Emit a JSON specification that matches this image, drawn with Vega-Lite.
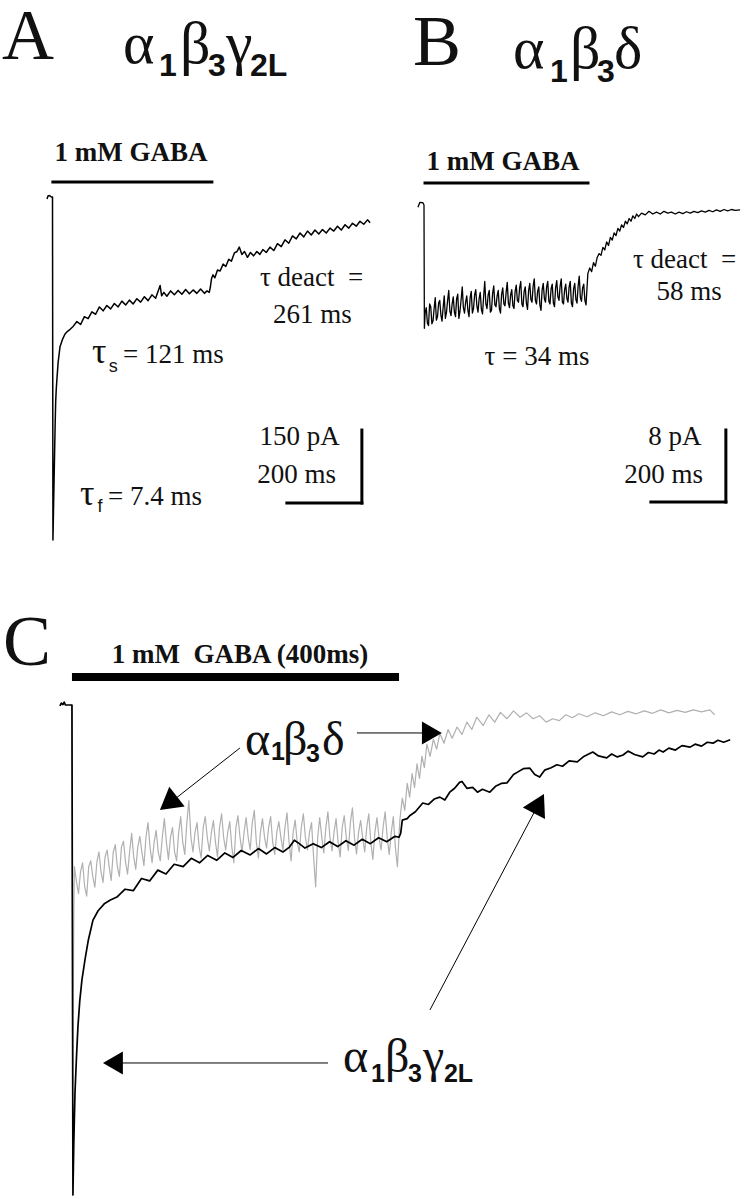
{
"$schema": "https://vega.github.io/schema/vega-lite/v6.json",
"padding": 0,
"background": "white",
"spacing": 0,
"config": {"view": {"stroke": null}, "concat": {"spacing": 0}},
"datasets": {
"traceA": [
{"t":-14.7,"I":-4},{"t":-12,"I":2},{"t":-8,"I":3},{"t":-3,"I":0},{"t":0,"I":0},{"t":0.6,"I":-350},{"t":1.2,"I":-705},{"t":2.5,"I":-650},{"t":4,"I":-590},{"t":5.5,"I":-530},{"t":7,"I":-470},{"t":8.5,"I":-420},{"t":10,"I":-395},{"t":12,"I":-372},{"t":15,"I":-340},{"t":20,"I":-308},{"t":27,"I":-292},{"t":33,"I":-282},{"t":40,"I":-276},{"t":47,"I":-272},{"t":55,"I":-266},
{"t":65,"I":-256},{"t":75,"I":-262},{"t":85,"I":-246},{"t":95,"I":-250},{"t":105,"I":-236},{"t":115,"I":-241},{"t":125,"I":-226},{"t":135,"I":-234},{"t":145,"I":-223},{"t":155,"I":-230},{"t":165,"I":-219},{"t":175,"I":-226},{"t":185,"I":-214},{"t":195,"I":-222},{"t":205,"I":-212},{"t":215,"I":-220},{"t":225,"I":-209},{"t":235,"I":-216},{"t":245,"I":-205},{"t":255,"I":-213},{"t":265,"I":-201},{"t":275,"I":-208},{"t":287,"I":-182},{"t":291,"I":-203},{"t":297,"I":-196},{"t":305,"I":-204},{"t":315,"I":-193},{"t":325,"I":-201},{"t":335,"I":-192},{"t":345,"I":-200},{"t":355,"I":-190},{"t":365,"I":-199},{"t":375,"I":-191},{"t":385,"I":-198},{"t":395,"I":-189},{"t":405,"I":-198},{"t":412,"I":-193},{"t":418,"I":-196},{"t":421,"I":-185},{"t":424,"I":-168},{"t":428,"I":-160},{"t":433,"I":-166},{"t":440,"I":-150},{"t":447,"I":-152},{"t":455,"I":-138},{"t":462,"I":-143},{"t":470,"I":-128},{"t":477,"I":-132},{"t":485,"I":-115},{"t":492,"I":-112},{"t":498,"I":-103},{"t":505,"I":-118},{"t":512,"I":-112},{"t":520,"I":-124},{"t":528,"I":-114},{"t":536,"I":-121},{"t":545,"I":-112},{"t":553,"I":-118},{"t":561,"I":-108},{"t":570,"I":-114},{"t":580,"I":-103},{"t":590,"I":-110},{"t":600,"I":-96},{"t":610,"I":-102},{"t":620,"I":-88},{"t":630,"I":-95},{"t":640,"I":-80},{"t":650,"I":-86},{"t":660,"I":-74},{"t":670,"I":-82},{"t":680,"I":-70},{"t":690,"I":-78},{"t":700,"I":-68},{"t":710,"I":-76},{"t":720,"I":-67},{"t":730,"I":-74},{"t":740,"I":-64},{"t":750,"I":-70},{"t":760,"I":-60},{"t":770,"I":-68},{"t":780,"I":-57},{"t":790,"I":-64},{"t":800,"I":-54},{"t":810,"I":-60},{"t":820,"I":-50},{"t":830,"I":-56},{"t":840,"I":-47},{"t":847,"I":-53}
],
"traceB": [
{"t":-16,"I":-0.25},{"t":-11,"I":0.3},{"t":-3,"I":0.25},{"t":0,"I":0},{"t":0.5,"I":-7},{"t":1,"I":-13.7},{"t":3,"I":-12.0},
{"t":6,"I":-11.4},{"t":9,"I":-13.1},{"t":12,"I":-13.4},{"t":15,"I":-11.0},{"t":18,"I":-11.3},{"t":21,"I":-13.2},{"t":24,"I":-12.9},{"t":27,"I":-11.5},{"t":30,"I":-10.3},{"t":33,"I":-12.8},{"t":36,"I":-12.4},{"t":39,"I":-10.9},{"t":42,"I":-10.6},{"t":45,"I":-12.2},{"t":48,"I":-12.9},{"t":51,"I":-11.4},{"t":54,"I":-10.1},{"t":57,"I":-12.6},{"t":60,"I":-11.9},{"t":63,"I":-10.6},{"t":66,"I":-9.5},{"t":69,"I":-11.8},{"t":72,"I":-12.3},{"t":75,"I":-11.0},{"t":78,"I":-10.2},{"t":81,"I":-11.9},{"t":84,"I":-12.4},{"t":87,"I":-10.4},{"t":90,"I":-9.9},{"t":93,"I":-12.6},{"t":96,"I":-11.8},{"t":99,"I":-10.5},{"t":102,"I":-9.1},{"t":105,"I":-11.4},{"t":108,"I":-12.0},{"t":111,"I":-10.8},{"t":114,"I":-10.1},{"t":117,"I":-11.7},{"t":120,"I":-12.4},{"t":123,"I":-10.3},{"t":126,"I":-9.6},{"t":129,"I":-12.0},{"t":132,"I":-11.5},{"t":135,"I":-10.0},{"t":138,"I":-9.4},{"t":141,"I":-11.2},{"t":144,"I":-11.9},{"t":147,"I":-10.4},{"t":150,"I":-9.7},{"t":153,"I":-11.6},{"t":156,"I":-12.1},{"t":159,"I":-10.2},{"t":162,"I":-8.5},{"t":165,"I":-11.0},{"t":168,"I":-11.5},{"t":171,"I":-10.0},{"t":174,"I":-9.5},{"t":177,"I":-11.9},{"t":180,"I":-11.7},{"t":183,"I":-9.8},{"t":186,"I":-9.0},{"t":189,"I":-11.1},{"t":192,"I":-11.3},{"t":195,"I":-10.1},{"t":198,"I":-9.5},{"t":201,"I":-11.5},{"t":204,"I":-12.0},{"t":207,"I":-9.9},{"t":210,"I":-9.2},{"t":213,"I":-11.0},{"t":216,"I":-11.2},{"t":219,"I":-9.7},{"t":222,"I":-8.6},{"t":225,"I":-10.9},{"t":228,"I":-11.4},{"t":231,"I":-10.0},{"t":234,"I":-9.4},{"t":237,"I":-11.2},{"t":240,"I":-11.5},{"t":243,"I":-9.6},{"t":246,"I":-8.9},{"t":249,"I":-10.6},{"t":252,"I":-10.8},{"t":255,"I":-9.2},{"t":258,"I":-8.5},{"t":261,"I":-11.0},{"t":264,"I":-11.3},{"t":267,"I":-9.6},{"t":270,"I":-9.1},{"t":273,"I":-10.9},{"t":276,"I":-11.6},{"t":279,"I":-9.5},{"t":282,"I":-8.7},{"t":285,"I":-10.5},{"t":288,"I":-10.8},{"t":291,"I":-9.0},{"t":294,"I":-8.2},{"t":297,"I":-10.6},{"t":300,"I":-11.0},{"t":303,"I":-9.6},{"t":306,"I":-9.1},{"t":309,"I":-11.1},{"t":312,"I":-11.7},{"t":315,"I":-9.4},{"t":318,"I":-8.7},{"t":321,"I":-10.4},{"t":324,"I":-10.8},{"t":327,"I":-9.1},{"t":330,"I":-8.5},{"t":333,"I":-10.7},{"t":336,"I":-11.0},{"t":339,"I":-9.3},{"t":342,"I":-8.8},{"t":345,"I":-10.9},{"t":348,"I":-11.3},{"t":351,"I":-9.2},{"t":354,"I":-8.4},{"t":357,"I":-10.2},{"t":360,"I":-10.6},{"t":363,"I":-9.0},{"t":366,"I":-8.2},{"t":369,"I":-10.8},{"t":372,"I":-11.0},{"t":375,"I":-9.4},{"t":378,"I":-8.8},{"t":381,"I":-10.4},{"t":384,"I":-10.8},{"t":387,"I":-9.1},{"t":390,"I":-8.5},{"t":393,"I":-10.9},{"t":396,"I":-11.3},{"t":399,"I":-9.3},{"t":402,"I":-8.7},{"t":405,"I":-10.5},{"t":408,"I":-10.9},{"t":411,"I":-9.0},{"t":414,"I":-7.9},{"t":417,"I":-10.3},{"t":420,"I":-10.7},{"t":423,"I":-9.2},{"t":426,"I":-8.8},{"t":429,"I":-10.6},{"t":432,"I":-11.1},
{"t":437,"I":-7.6},{"t":442,"I":-7.0},{"t":447,"I":-7.4},{"t":452,"I":-6.4},{"t":457,"I":-6.8},{"t":462,"I":-5.8},{"t":467,"I":-5.4},{"t":472,"I":-5.6},{"t":477,"I":-4.7},{"t":482,"I":-5.0},{"t":487,"I":-4.1},{"t":492,"I":-4.5},{"t":497,"I":-3.6},{"t":502,"I":-3.9},{"t":507,"I":-3.1},{"t":512,"I":-3.4},{"t":517,"I":-2.6},{"t":522,"I":-2.9},{"t":527,"I":-2.2},{"t":532,"I":-2.5},{"t":537,"I":-1.8},{"t":542,"I":-2.1},{"t":547,"I":-1.5},{"t":552,"I":-1.8},{"t":557,"I":-1.2},{"t":562,"I":-1.5},{"t":567,"I":-1.0},{"t":572,"I":-1.3},{"t":580,"I":-0.9},{"t":590,"I":-1.1},{"t":600,"I":-0.7},{"t":610,"I":-1.0},{"t":620,"I":-0.8},{"t":630,"I":-1.0},{"t":640,"I":-0.7},{"t":650,"I":-0.9},{"t":660,"I":-0.8},{"t":670,"I":-1.0},{"t":680,"I":-0.8},{"t":690,"I":-0.95},{"t":700,"I":-0.75},{"t":710,"I":-0.9},{"t":720,"I":-0.7},{"t":730,"I":-0.85},{"t":740,"I":-0.65},{"t":750,"I":-0.8},{"t":760,"I":-0.6},{"t":770,"I":-0.75},{"t":780,"I":-0.55},{"t":790,"I":-0.7},{"t":800,"I":-0.5},{"t":810,"I":-0.65},{"t":820,"I":-0.5},{"t":830,"I":-0.6},{"t":843,"I":-0.55}
],
"traceCgray": [
{"t":-2,"I":0},{"t":0,"I":0},{"t":0.5,"I":-0.4},{"t":1,"I":-0.771},{"t":1.6,"I":-0.6},{"t":2.3,"I":-0.42},
{"t":3,"I":-0.330},{"t":5.5,"I":-0.36},{"t":8,"I":-0.385},{"t":10.5,"I":-0.34},{"t":13,"I":-0.322},{"t":15.5,"I":-0.37},{"t":18,"I":-0.390},{"t":20.5,"I":-0.33},{"t":23,"I":-0.318},{"t":25.5,"I":-0.35},{"t":28,"I":-0.372},{"t":30.5,"I":-0.32},{"t":33,"I":-0.300},{"t":35.5,"I":-0.34},{"t":38,"I":-0.362},{"t":40.5,"I":-0.31},{"t":43,"I":-0.296},{"t":45.5,"I":-0.33},{"t":48,"I":-0.358},{"t":50.5,"I":-0.30},{"t":53,"I":-0.285},{"t":55.5,"I":-0.33},{"t":58,"I":-0.350},{"t":60.5,"I":-0.29},{"t":63,"I":-0.278},{"t":65.5,"I":-0.32},{"t":68,"I":-0.345},{"t":70.5,"I":-0.30},{"t":73,"I":-0.262},{"t":75.5,"I":-0.31},{"t":78,"I":-0.335},{"t":80.5,"I":-0.29},{"t":83,"I":-0.268},{"t":85.5,"I":-0.30},{"t":88,"I":-0.328},{"t":90.5,"I":-0.27},{"t":93,"I":-0.240},{"t":95.5,"I":-0.29},{"t":98,"I":-0.322},{"t":100.5,"I":-0.28},{"t":103,"I":-0.256},{"t":105.5,"I":-0.30},{"t":108,"I":-0.318},{"t":110.5,"I":-0.27},{"t":113,"I":-0.232},{"t":115.5,"I":-0.28},{"t":118,"I":-0.315},{"t":120.5,"I":-0.27},{"t":123,"I":-0.250},{"t":125.5,"I":-0.30},{"t":128,"I":-0.318},{"t":130.5,"I":-0.26},{"t":133,"I":-0.228},{"t":135.5,"I":-0.28},{"t":138,"I":-0.305},{"t":140.5,"I":-0.24},{"t":143,"I":-0.195},{"t":145.5,"I":-0.27},{"t":148,"I":-0.300},{"t":150.5,"I":-0.26},{"t":153,"I":-0.240},{"t":155.5,"I":-0.29},{"t":158,"I":-0.312},{"t":160.5,"I":-0.25},{"t":163,"I":-0.228},{"t":165.5,"I":-0.27},{"t":168,"I":-0.298},{"t":170.5,"I":-0.26},{"t":173,"I":-0.236},{"t":175.5,"I":-0.28},{"t":178,"I":-0.310},{"t":180.5,"I":-0.25},{"t":183,"I":-0.222},{"t":185.5,"I":-0.27},{"t":188,"I":-0.296},{"t":190.5,"I":-0.26},{"t":193,"I":-0.238},{"t":195.5,"I":-0.29},{"t":198,"I":-0.322},{"t":200.5,"I":-0.25},{"t":203,"I":-0.226},{"t":205.5,"I":-0.27},{"t":208,"I":-0.300},{"t":210.5,"I":-0.26},{"t":213,"I":-0.230},{"t":215.5,"I":-0.27},{"t":218,"I":-0.295},{"t":220.5,"I":-0.24},{"t":223,"I":-0.215},{"t":225.5,"I":-0.28},{"t":228,"I":-0.312},{"t":230.5,"I":-0.26},{"t":233,"I":-0.232},{"t":235.5,"I":-0.27},{"t":238,"I":-0.292},{"t":240.5,"I":-0.25},{"t":243,"I":-0.228},{"t":245.5,"I":-0.28},{"t":248,"I":-0.305},{"t":250.5,"I":-0.26},{"t":253,"I":-0.238},{"t":255.5,"I":-0.27},{"t":258,"I":-0.296},{"t":260.5,"I":-0.25},{"t":263,"I":-0.220},{"t":265.5,"I":-0.28},{"t":268,"I":-0.318},{"t":270.5,"I":-0.26},{"t":273,"I":-0.235},{"t":275.5,"I":-0.28},{"t":278,"I":-0.300},{"t":280.5,"I":-0.25},{"t":283,"I":-0.222},{"t":285.5,"I":-0.27},{"t":288,"I":-0.296},{"t":290.5,"I":-0.26},{"t":293,"I":-0.240},{"t":295.5,"I":-0.31},{"t":298,"I":-0.371},{"t":300.5,"I":-0.27},{"t":303,"I":-0.230},{"t":305.5,"I":-0.27},{"t":308,"I":-0.302},{"t":310.5,"I":-0.25},{"t":313,"I":-0.218},{"t":315.5,"I":-0.27},{"t":318,"I":-0.298},{"t":320.5,"I":-0.26},{"t":323,"I":-0.232},{"t":325.5,"I":-0.28},{"t":328,"I":-0.310},{"t":330.5,"I":-0.25},{"t":333,"I":-0.226},{"t":335.5,"I":-0.27},{"t":338,"I":-0.297},{"t":340.5,"I":-0.24},{"t":343,"I":-0.210},{"t":345.5,"I":-0.27},{"t":348,"I":-0.304},{"t":350.5,"I":-0.26},{"t":353,"I":-0.236},{"t":355.5,"I":-0.27},{"t":358,"I":-0.300},{"t":360.5,"I":-0.25},{"t":363,"I":-0.222},{"t":365.5,"I":-0.28},{"t":368,"I":-0.315},{"t":370.5,"I":-0.26},{"t":373,"I":-0.230},{"t":375.5,"I":-0.27},{"t":378,"I":-0.296},{"t":380.5,"I":-0.25},{"t":383,"I":-0.218},{"t":385.5,"I":-0.27},{"t":388,"I":-0.305},{"t":390.5,"I":-0.26},{"t":393,"I":-0.228},{"t":395.5,"I":-0.29},{"t":398,"I":-0.330},
{"t":401,"I":-0.235},{"t":404,"I":-0.190},{"t":407,"I":-0.215},{"t":410,"I":-0.160},{"t":413,"I":-0.188},{"t":416,"I":-0.140},{"t":419,"I":-0.168},{"t":422,"I":-0.120},{"t":425,"I":-0.150},{"t":428,"I":-0.105},{"t":431,"I":-0.128},{"t":434,"I":-0.080},{"t":438,"I":-0.105},{"t":442,"I":-0.070},{"t":446,"I":-0.090},{"t":450,"I":-0.058},{"t":455,"I":-0.078},{"t":460,"I":-0.050},{"t":465,"I":-0.068},{"t":471,"I":-0.045},{"t":477,"I":-0.060},{"t":483,"I":-0.035},{"t":489,"I":-0.050},{"t":495,"I":-0.025},{"t":503,"I":-0.042},{"t":510,"I":-0.020},{"t":517,"I":-0.035},{"t":524,"I":-0.015},{"t":532,"I":-0.028},{"t":540,"I":-0.012},{"t":548,"I":-0.025},{"t":556,"I":-0.016},{"t":564,"I":-0.028},{"t":572,"I":-0.022},{"t":580,"I":-0.035},{"t":588,"I":-0.028},{"t":596,"I":-0.032},{"t":604,"I":-0.020},{"t":612,"I":-0.026},{"t":620,"I":-0.018},{"t":630,"I":-0.024},{"t":640,"I":-0.016},{"t":650,"I":-0.022},{"t":660,"I":-0.014},{"t":670,"I":-0.020},{"t":680,"I":-0.013},{"t":690,"I":-0.018},{"t":700,"I":-0.012},{"t":710,"I":-0.017},{"t":720,"I":-0.010},{"t":730,"I":-0.016},{"t":740,"I":-0.011},{"t":750,"I":-0.015},{"t":760,"I":-0.010},{"t":770,"I":-0.014},{"t":780,"I":-0.010},{"t":786,"I":-0.020}
],
"traceCblack": [
{"t":-14.7,"I":-0.002},{"t":-13,"I":0.004},{"t":-11,"I":0.001},{"t":-9.5,"I":0.006},{"t":-8,"I":0.0},{"t":0,"I":0},{"t":0.6,"I":-0.5},{"t":1.2,"I":-1.0},{"t":2.2,"I":-0.9},{"t":3.7,"I":-0.792},{"t":5.5,"I":-0.72},{"t":7.3,"I":-0.657},{"t":9.5,"I":-0.605},{"t":12.2,"I":-0.561},{"t":15.9,"I":-0.52},{"t":20,"I":-0.48},{"t":25.7,"I":-0.439},{"t":32,"I":-0.42},{"t":40,"I":-0.405},{"t":47,"I":-0.398},{"t":55,"I":-0.392},
{"t":65,"I":-0.376},{"t":75,"I":-0.379},{"t":85,"I":-0.354},{"t":95,"I":-0.359},{"t":105,"I":-0.337},{"t":115,"I":-0.345},{"t":125,"I":-0.325},{"t":136,"I":-0.330},{"t":146,"I":-0.313},{"t":156,"I":-0.322},{"t":166,"I":-0.307},{"t":177,"I":-0.317},{"t":187,"I":-0.302},{"t":197,"I":-0.311},{"t":207,"I":-0.297},{"t":218,"I":-0.306},{"t":228,"I":-0.293},{"t":238,"I":-0.304},{"t":248,"I":-0.291},{"t":258,"I":-0.300},{"t":266,"I":-0.290},{"t":272,"I":-0.276},{"t":278,"I":-0.283},{"t":285,"I":-0.292},{"t":295,"I":-0.283},{"t":305,"I":-0.291},{"t":315,"I":-0.279},{"t":325,"I":-0.289},{"t":335,"I":-0.277},{"t":345,"I":-0.286},{"t":355,"I":-0.274},{"t":365,"I":-0.283},{"t":375,"I":-0.271},{"t":385,"I":-0.279},{"t":395,"I":-0.268},{"t":400,"I":-0.270},
{"t":402,"I":-0.262},{"t":404,"I":-0.235},{"t":410,"I":-0.232},{"t":413,"I":-0.226},{"t":420,"I":-0.218},{"t":429,"I":-0.200},{"t":436,"I":-0.203},{"t":443,"I":-0.192},{"t":450,"I":-0.188},{"t":456,"I":-0.194},{"t":462,"I":-0.178},{"t":468,"I":-0.170},{"t":474,"I":-0.158},{"t":477,"I":-0.156},{"t":483,"I":-0.170},{"t":490,"I":-0.168},{"t":496,"I":-0.178},{"t":502,"I":-0.172},{"t":511,"I":-0.178},{"t":518,"I":-0.166},{"t":525,"I":-0.160},{"t":532,"I":-0.159},{"t":540,"I":-0.142},{"t":546,"I":-0.136},{"t":552,"I":-0.130},{"t":560,"I":-0.129},{"t":566,"I":-0.142},{"t":572,"I":-0.147},{"t":578,"I":-0.133},{"t":586,"I":-0.128},{"t":593,"I":-0.122},{"t":600,"I":-0.125},{"t":608,"I":-0.114},{"t":618,"I":-0.116},{"t":626,"I":-0.105},{"t":632,"I":-0.100},{"t":637,"I":-0.096},{"t":644,"I":-0.104},{"t":654,"I":-0.108},{"t":660,"I":-0.100},{"t":667,"I":-0.106},{"t":674,"I":-0.102},{"t":680,"I":-0.094},{"t":688,"I":-0.101},{"t":698,"I":-0.106},{"t":705,"I":-0.097},{"t":712,"I":-0.100},{"t":718,"I":-0.092},{"t":723,"I":-0.096},{"t":730,"I":-0.088},{"t":738,"I":-0.092},{"t":746,"I":-0.083},{"t":756,"I":-0.086},{"t":762,"I":-0.080},{"t":770,"I":-0.084},{"t":777,"I":-0.076},{"t":784,"I":-0.078},{"t":790,"I":-0.072},{"t":797,"I":-0.076},{"t":805,"I":-0.071}
],
"rulesA": [
{"kind":"bar","t":1,"I":30.8,"t2":425,"I2":30.8},
{"kind":"bar","t":625,"I":-629,"t2":825,"I2":-629},
{"kind":"bar","t":825,"I":-629,"t2":825,"I2":-479}
],
"rulesB": [
{"kind":"bar","t":2.7,"I":2.44,"t2":437.3,"I2":2.44},
{"kind":"bar","t":605,"I":-33,"t2":805,"I2":-33},
{"kind":"bar","t":805,"I":-33,"t2":805,"I2":-25}
],
"rulesC": [
{"kind":"stim","t":0,"I":0.0571,"t2":400,"I2":0.0571},
{"kind":"arrow","t":348.5,"I":-0.0571,"t2":432,"I2":-0.0571},
{"kind":"arrow","t":205.4,"I":-0.0878,"t2":122,"I2":-0.197},
{"kind":"arrow","t":313.1,"I":-0.7306,"t2":52,"I2":-0.7306},
{"kind":"arrow","t":437.8,"I":-0.6224,"t2":571,"I2":-0.201}
],
"textA": [
{"kind":"panel","label":"A","t":-134.7,"I":283.6},
{"kind":"greek","label":"α","t":188,"I":275.4},
{"kind":"sub","label":"1","t":284,"I":248.7},
{"kind":"greek","label":"β","t":340,"I":275.4},
{"kind":"sub","label":"3","t":414.7,"I":248.7},
{"kind":"greek","label":"γ","t":462.7,"I":275.4},
{"kind":"sub","label":"2L","t":526.7,"I":248.7},
{"kind":"gaba","label":"1 mM GABA","t":209.3,"I":75.0},
{"kind":"note","label":"τ deact\u00a0 =","t":553.3,"I":-182.9},
{"kind":"center","label":"261 ms","t":693.3,"I":-259.6},
{"kind":"tau","label":"τ","t":105.3,"I":-341.2},
{"kind":"tauSub","label":"s","t":150,"I":-359.7},
{"kind":"note","label":"= 121 ms","t":188,"I":-341.2},
{"kind":"tau","label":"τ","t":73.3,"I":-633.1},
{"kind":"tauSub","label":"f","t":120,"I":-647.5},
{"kind":"note","label":"= 7.4 ms","t":148,"I":-633.1},
{"kind":"center","label":"150 pA","t":658.7,"I":-509.7},
{"kind":"center","label":"200 ms","t":650.7,"I":-588.5}
],
"textB": [
{"kind":"panel","label":"B","t":-29.3,"I":15.56},
{"kind":"greek","label":"α","t":237.3,"I":15.22},
{"kind":"sub","label":"1","t":336,"I":13.67},
{"kind":"greek","label":"β","t":389.3,"I":15.22},
{"kind":"sub","label":"3","t":461.3,"I":13.67},
{"kind":"greek","label":"δ","t":506.7,"I":15.22},
{"kind":"gaba","label":"1 mM GABA","t":210.7,"I":3.89},
{"kind":"note","label":"τ deact\u00a0 =","t":557.3,"I":-7.04},
{"kind":"center","label":"58 ms","t":706.7,"I":-10.56},
{"kind":"center","label":"τ = 34 ms","t":301.3,"I":-17.78},
{"kind":"center","label":"8 pA","t":669.3,"I":-26.67},
{"kind":"center","label":"200 ms","t":638.7,"I":-30.93}
],
"textC": [
{"kind":"panel","label":"C","t":-84.4,"I":0.0816},
{"kind":"gaba","label":"1 mM\u00a0 GABA (400ms)","t":205.4,"I":0.0857},
{"kind":"greekC","label":"α","t":211.6,"I":-0.102},
{"kind":"subC","label":"1","t":243.4,"I":-0.1122},
{"kind":"greekC","label":"β","t":258.0,"I":-0.102},
{"kind":"subC","label":"3","t":286.2,"I":-0.1163},
{"kind":"greekC","label":"δ","t":305.7,"I":-0.102},
{"kind":"greekC","label":"α","t":331.4,"I":-0.749},
{"kind":"subC","label":"1","t":365.6,"I":-0.769},
{"kind":"greekC","label":"β","t":382.8,"I":-0.749},
{"kind":"subC","label":"3","t":410.9,"I":-0.769},
{"kind":"greekC","label":"γ","t":429.2,"I":-0.749},
{"kind":"subC","label":"2L","t":454.9,"I":-0.769}
],
"headRight": [{"t":440.2,"I":-0.0571}],
"headLeft": [{"t":50.1,"I":-0.7306}],
"headDownLeft": [{"t":118.0,"I":-0.2006}],
"headUpRight": [{"t":571.1,"I":-0.2012}]
},
"vconcat": [
{
"hconcat": [
{
"width": 390, "height": 560,
"encoding": {
"x": {"field": "t", "type": "quantitative", "scale": {"domain": [-140, 900], "nice": false, "zero": false}, "axis": null},
"y": {"field": "I", "type": "quantitative", "scale": {"domain": [-746.1, 404.9], "nice": false, "zero": false}, "axis": null}
},
"layer": [
{"data": {"name": "traceA"}, "mark": {"type": "line", "color": "black", "strokeWidth": 1.5, "strokeJoin": "round"}},
{"data": {"name": "rulesA"}, "mark": {"type": "rule", "color": "black", "strokeWidth": 3, "strokeCap": "square"}, "encoding": {"x2": {"field": "t2"}, "y2": {"field": "I2"}}},
{"data": {"name": "textA"}, "transform": [{"filter": "datum.kind === 'panel'"}], "mark": {"type": "text", "align": "left", "baseline": "alphabetic", "font": "Liberation Serif", "fontSize": 72, "color": "#111"}, "encoding": {"text": {"field": "label"}}},
{"data": {"name": "textA"}, "transform": [{"filter": "datum.kind === 'greek'"}], "mark": {"type": "text", "align": "left", "baseline": "alphabetic", "font": "Liberation Serif", "fontSize": 60, "color": "#111"}, "encoding": {"text": {"field": "label"}}},
{"data": {"name": "textA"}, "transform": [{"filter": "datum.kind === 'sub'"}], "mark": {"type": "text", "align": "left", "baseline": "alphabetic", "font": "Liberation Sans", "fontWeight": "bold", "fontSize": 32, "color": "#111"}, "encoding": {"text": {"field": "label"}}},
{"data": {"name": "textA"}, "transform": [{"filter": "datum.kind === 'gaba'"}], "mark": {"type": "text", "align": "center", "baseline": "alphabetic", "font": "Liberation Serif", "fontWeight": "bold", "fontSize": 27, "color": "#111"}, "encoding": {"text": {"field": "label"}}},
{"data": {"name": "textA"}, "transform": [{"filter": "datum.kind === 'note'"}], "mark": {"type": "text", "align": "left", "baseline": "alphabetic", "font": "Liberation Serif", "fontSize": 27, "color": "#111"}, "encoding": {"text": {"field": "label"}}},
{"data": {"name": "textA"}, "transform": [{"filter": "datum.kind === 'center'"}], "mark": {"type": "text", "align": "center", "baseline": "alphabetic", "font": "Liberation Serif", "fontSize": 27, "color": "#111"}, "encoding": {"text": {"field": "label"}}},
{"data": {"name": "textA"}, "transform": [{"filter": "datum.kind === 'tau'"}], "mark": {"type": "text", "align": "left", "baseline": "alphabetic", "font": "Liberation Serif", "fontSize": 36, "color": "#111"}, "encoding": {"text": {"field": "label"}}},
{"data": {"name": "textA"}, "transform": [{"filter": "datum.kind === 'tauSub'"}], "mark": {"type": "text", "align": "left", "baseline": "alphabetic", "font": "Liberation Sans", "fontSize": 18, "color": "#111"}, "encoding": {"text": {"field": "label"}}}
]
},
{
"width": 359, "height": 560,
"encoding": {
"x": {"field": "t", "type": "quantitative", "scale": {"domain": [-90.667, 866.667], "nice": false, "zero": false}, "axis": null},
"y": {"field": "I", "type": "quantitative", "scale": {"domain": [-39.444, 22.778], "nice": false, "zero": false}, "axis": null}
},
"layer": [
{"data": {"name": "traceB"}, "mark": {"type": "line", "color": "black", "strokeWidth": 1.3, "strokeJoin": "round"}},
{"data": {"name": "rulesB"}, "mark": {"type": "rule", "color": "black", "strokeWidth": 3, "strokeCap": "square"}, "encoding": {"x2": {"field": "t2"}, "y2": {"field": "I2"}}},
{"data": {"name": "textB"}, "transform": [{"filter": "datum.kind === 'panel'"}], "mark": {"type": "text", "align": "left", "baseline": "alphabetic", "font": "Liberation Serif", "fontSize": 72, "color": "#111"}, "encoding": {"text": {"field": "label"}}},
{"data": {"name": "textB"}, "transform": [{"filter": "datum.kind === 'greek'"}], "mark": {"type": "text", "align": "left", "baseline": "alphabetic", "font": "Liberation Serif", "fontSize": 60, "color": "#111"}, "encoding": {"text": {"field": "label"}}},
{"data": {"name": "textB"}, "transform": [{"filter": "datum.kind === 'sub'"}], "mark": {"type": "text", "align": "left", "baseline": "alphabetic", "font": "Liberation Sans", "fontWeight": "bold", "fontSize": 32, "color": "#111"}, "encoding": {"text": {"field": "label"}}},
{"data": {"name": "textB"}, "transform": [{"filter": "datum.kind === 'gaba'"}], "mark": {"type": "text", "align": "center", "baseline": "alphabetic", "font": "Liberation Serif", "fontWeight": "bold", "fontSize": 27, "color": "#111"}, "encoding": {"text": {"field": "label"}}},
{"data": {"name": "textB"}, "transform": [{"filter": "datum.kind === 'note'"}], "mark": {"type": "text", "align": "left", "baseline": "alphabetic", "font": "Liberation Serif", "fontSize": 27, "color": "#111"}, "encoding": {"text": {"field": "label"}}},
{"data": {"name": "textB"}, "transform": [{"filter": "datum.kind === 'center'"}], "mark": {"type": "text", "align": "center", "baseline": "alphabetic", "font": "Liberation Serif", "fontSize": 27, "color": "#111"}, "encoding": {"text": {"field": "label"}}}
]
}
],
"spacing": 0,
"bounds": "flush"
},
{
"width": 749, "height": 639,
"encoding": {
"x": {"field": "t", "type": "quantitative", "scale": {"domain": [-88, 828], "nice": false, "zero": false}, "axis": null},
"y": {"field": "I", "type": "quantitative", "scale": {"domain": [-1.0082, 0.2959], "nice": false, "zero": false}, "axis": null}
},
"layer": [
{"data": {"name": "traceCgray"}, "mark": {"type": "line", "color": "#b0b0b0", "strokeWidth": 1.2, "strokeJoin": "round"}},
{"data": {"name": "traceCblack"}, "mark": {"type": "line", "color": "black", "strokeWidth": 1.7, "strokeJoin": "round"}},
{"data": {"name": "rulesC"}, "transform": [{"filter": "datum.kind === 'stim'"}], "mark": {"type": "rule", "color": "black", "strokeWidth": 8}, "encoding": {"x2": {"field": "t2"}, "y2": {"field": "I2"}}},
{"data": {"name": "rulesC"}, "transform": [{"filter": "datum.kind === 'arrow'"}], "mark": {"type": "rule", "color": "black", "strokeWidth": 1}, "encoding": {"x2": {"field": "t2"}, "y2": {"field": "I2"}}},
{"data": {"name": "headRight"}, "mark": {"type": "point", "shape": "triangle-up", "angle": 90, "size": 529, "filled": true, "color": "black", "opacity": 1}},
{"data": {"name": "headLeft"}, "mark": {"type": "point", "shape": "triangle-up", "angle": 270, "size": 529, "filled": true, "color": "black", "opacity": 1}},
{"data": {"name": "headDownLeft"}, "mark": {"type": "point", "shape": "triangle-up", "angle": 232, "size": 625, "filled": true, "color": "black", "opacity": 1}},
{"data": {"name": "headUpRight"}, "mark": {"type": "point", "shape": "triangle-up", "angle": 27.5, "size": 625, "filled": true, "color": "black", "opacity": 1}},
{"data": {"name": "textC"}, "transform": [{"filter": "datum.kind === 'panel'"}], "mark": {"type": "text", "align": "left", "baseline": "alphabetic", "font": "Liberation Serif", "fontSize": 72, "color": "#111"}, "encoding": {"text": {"field": "label"}}},
{"data": {"name": "textC"}, "transform": [{"filter": "datum.kind === 'gaba'"}], "mark": {"type": "text", "align": "center", "baseline": "alphabetic", "font": "Liberation Serif", "fontWeight": "bold", "fontSize": 27, "color": "#111"}, "encoding": {"text": {"field": "label"}}},
{"data": {"name": "textC"}, "transform": [{"filter": "datum.kind === 'greekC'"}], "mark": {"type": "text", "align": "left", "baseline": "alphabetic", "font": "Liberation Serif", "fontSize": 48, "color": "#111"}, "encoding": {"text": {"field": "label"}}},
{"data": {"name": "textC"}, "transform": [{"filter": "datum.kind === 'subC'"}], "mark": {"type": "text", "align": "left", "baseline": "alphabetic", "font": "Liberation Sans", "fontWeight": "bold", "fontSize": 25, "color": "#111"}, "encoding": {"text": {"field": "label"}}}
]
}
]
}
